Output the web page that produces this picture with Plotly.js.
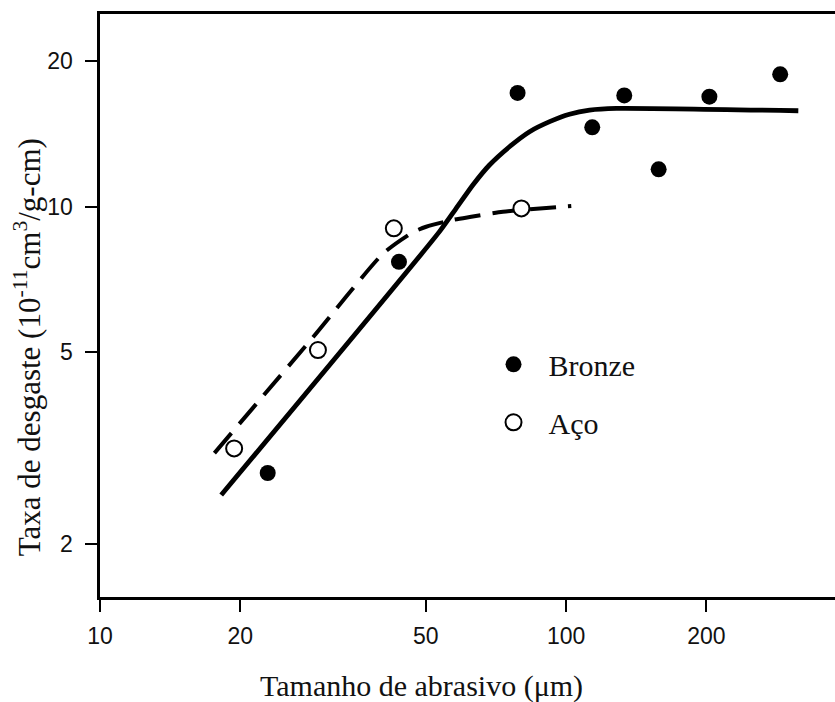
<!DOCTYPE html>
<html>
<head>
<meta charset="utf-8">
<script src="https://cdn.plot.ly/plotly-3.0.1.min.js"></script>
<style>
html,body{margin:0;padding:0;background:#fff;}
#chart{width:835px;height:702px;}
</style>
</head>
<body>
<div id="chart"></div>
<script>
// Data
var bronzeX = [22.9, 43.8, 78.7, 113.8, 133.3, 158, 203, 288];
var bronzeY = [2.81, 7.69, 17.2, 14.6, 17.0, 11.95, 16.9, 18.8];
var acoX = [19.4, 29.35, 42.7, 80.2];
var acoY = [3.16, 5.05, 9.02, 9.92];
var fitBronzeX = [18.2, 53.5, 58.1, 63.1, 68.5, 75.6, 83.5, 92.2, 101.7, 112.3, 128.2, 315];
var fitBronzeY = [2.53, 8.88, 9.92, 11.09, 12.2, 13.31, 14.3, 15.0, 15.54, 15.85, 15.98, 15.8];
var fitAcoX = [17.6, 28.7, 40.5, 46.9, 50.1, 57.1, 62.6, 73.2, 102.6];
var fitAcoY = [3.09, 5.38, 8.0, 8.85, 9.09, 9.39, 9.53, 9.76, 10.03];
var xTickVals = [10, 20, 50, 100, 200];
var xTickText = ['10', '20', '50', '100', '200'];
var yTickVals = [2, 5, 10, 20];
var yTickText = ['2', '5', '10', '20'];
var seriesNames = ['Bronze', 'Aço'];
var xTitle = 'Tamanho de abrasivo (μm)';
var yTitle = 'Taxa de desgaste (10<sup>-11</sup>cm<sup>3</sup>/g-cm)';

var serif = 'Liberation Serif, Times New Roman, serif';
var sans = 'Liberation Sans, Arial, sans-serif';

var traces = [
  {x: fitBronzeX, y: fitBronzeY, mode: 'lines', type: 'scatter', showlegend: false, hoverinfo: 'skip',
   line: {color: '#000', width: 4.8, shape: 'spline', smoothing: 0.6}},
  {x: fitAcoX, y: fitAcoY, mode: 'lines', type: 'scatter', showlegend: false, hoverinfo: 'skip',
   line: {color: '#000', width: 4, shape: 'spline', smoothing: 0.6, dash: '26px,12px'}},
  {x: bronzeX, y: bronzeY, mode: 'markers', type: 'scatter', name: seriesNames[0], legendgroup: 'a',
   marker: {symbol: 'circle', size: 16, color: '#000', line: {color: '#000', width: 0}}},
  {x: acoX, y: acoY, mode: 'markers', type: 'scatter', name: seriesNames[1], legendgroup: 'b',
   marker: {symbol: 'circle', size: 16, color: '#fff', line: {color: '#000', width: 2}}}
];

var layout = {
  width: 835, height: 702,
  margin: {l: 100, r: 0, t: 14, b: 105, pad: 0},
  paper_bgcolor: '#fff', plot_bgcolor: '#fff',
  showlegend: true,
  legend: {x: 0.515, y: 0.4437, xanchor: 'left', yanchor: 'top', xref: 'paper', yref: 'paper',
           bgcolor: 'rgba(0,0,0,0)', borderwidth: 0, itemwidth: 60, tracegroupgap: 16,
           traceorder: 'grouped', font: {family: serif, size: 30, color: '#111'}},
  xaxis: {type: 'log', range: [1, 2.577], tickvals: xTickVals, ticktext: xTickText,
          showgrid: false, zeroline: false, showline: true, linecolor: '#000', linewidth: 2.6,
          mirror: true, ticks: 'outside', ticklen: 12, tickwidth: 2, tickcolor: '#000',
          ticklabelstandoff: 5, tickfont: {family: sans, size: 23, color: '#111'}},
  yaxis: {type: 'log', range: [0.192, 1.399], tickvals: yTickVals, ticktext: yTickText,
          showgrid: false, zeroline: false, showline: true, linecolor: '#000', linewidth: 2.6,
          mirror: false, ticks: 'outside', ticklen: 12, tickwidth: 2, tickcolor: '#000',
          ticklabelstandoff: 8, tickfont: {family: sans, size: 23, color: '#111'}},
  annotations: [
    {text: xTitle, xref: 'paper', yref: 'paper', x: 0.438, y: -0.153, xanchor: 'center', yanchor: 'middle',
     showarrow: false, font: {family: serif, size: 30, color: '#111'}},
    {text: yTitle, xref: 'paper', yref: 'paper', x: -0.099, y: 0.4288, xanchor: 'center', yanchor: 'middle',
     textangle: -90, showarrow: false, font: {family: serif, size: 31, color: '#111'}}
  ]
};

Plotly.newPlot('chart', traces, layout, {displayModeBar: false, staticPlot: true});
</script>
</body>
</html>
